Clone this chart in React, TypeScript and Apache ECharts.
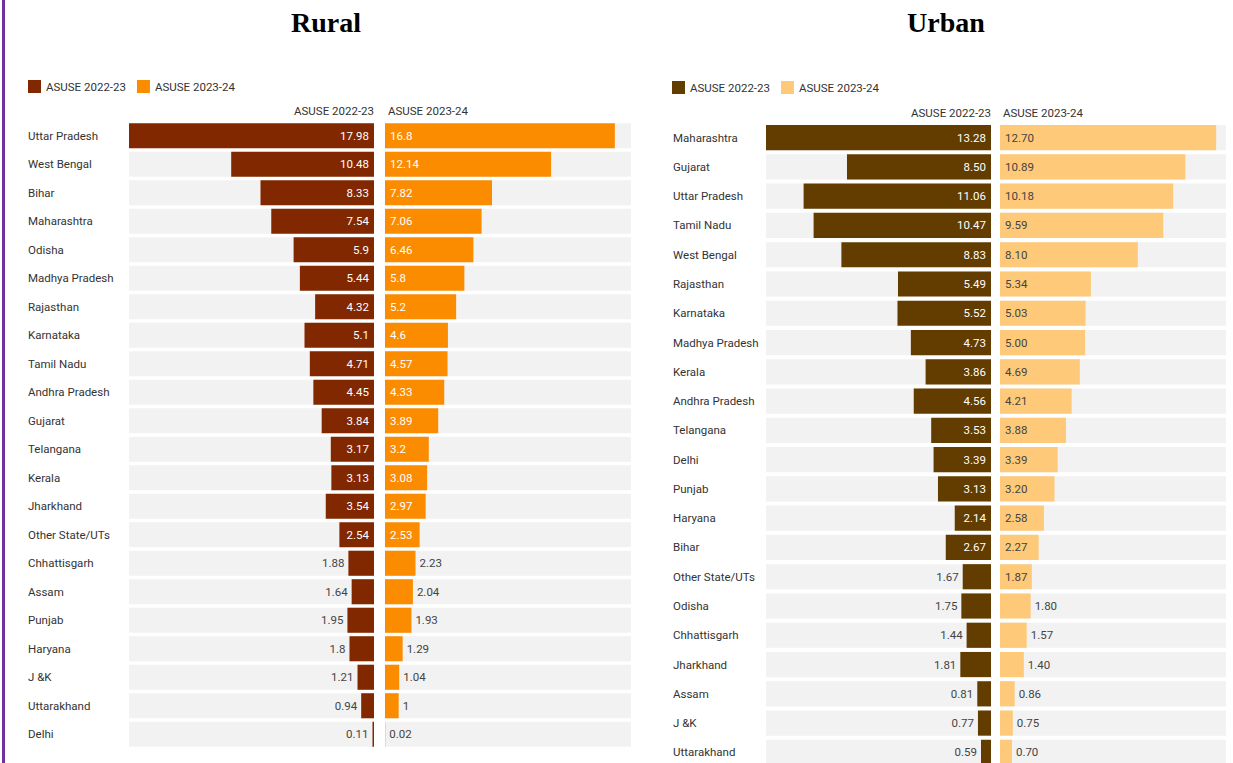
import React, { useEffect, useRef } from "react";
import * as echarts from "echarts";

const ruralStates = [
  "Uttar Pradesh", "West Bengal", "Bihar", "Maharashtra", "Odisha", "Madhya Pradesh",
  "Rajasthan", "Karnataka", "Tamil Nadu", "Andhra Pradesh", "Gujarat", "Telangana",
  "Kerala", "Jharkhand", "Other State/UTs", "Chhattisgarh", "Assam", "Punjab",
  "Haryana", "J &K", "Uttarakhand", "Delhi",
];
const rural2022 = [17.98, 10.48, 8.33, 7.54, 5.9, 5.44, 4.32, 5.1, 4.71, 4.45, 3.84, 3.17, 3.13, 3.54, 2.54, 1.88, 1.64, 1.95, 1.8, 1.21, 0.94, 0.11];
const rural2023 = [16.8, 12.14, 7.82, 7.06, 6.46, 5.8, 5.2, 4.6, 4.57, 4.33, 3.89, 3.2, 3.08, 2.97, 2.53, 2.23, 2.04, 1.93, 1.29, 1.04, 1, 0.02];

const urbanStates = [
  "Maharashtra", "Gujarat", "Uttar Pradesh", "Tamil Nadu", "West Bengal", "Rajasthan",
  "Karnataka", "Madhya Pradesh", "Kerala", "Andhra Pradesh", "Telangana", "Delhi",
  "Punjab", "Haryana", "Bihar", "Other State/UTs", "Odisha", "Chhattisgarh",
  "Jharkhand", "Assam", "J &K", "Uttarakhand",
];
const urban2022 = [13.28, 8.5, 11.06, 10.47, 8.83, 5.49, 5.52, 4.73, 3.86, 4.56, 3.53, 3.39, 3.13, 2.14, 2.67, 1.67, 1.75, 1.44, 1.81, 0.81, 0.77, 0.59];
const urban2023 = [12.7, 10.89, 10.18, 9.59, 8.1, 5.34, 5.03, 5.0, 4.69, 4.21, 3.88, 3.39, 3.2, 2.58, 2.27, 1.87, 1.8, 1.57, 1.4, 0.86, 0.75, 0.7];

const periodNames = ["ASUSE 2022-23", "ASUSE 2023-24"];
const panelTitles = ["Rural", "Urban"];

const FONT = "Roboto, 'Noto Sans', sans-serif";
const TEXT = "#333333";

const seriesLabel: Record<string, string> = {
  r22: periodNames[0],
  r23: periodNames[1],
  u22: periodNames[0],
  u23: periodNames[1],
};

function makeData(
  values: number[],
  side: "left" | "right",
  threshold: number,
  insideColor: string,
  fmt: (v: number) => string
) {
  return values.map((v) => {
    const inside = v >= threshold;
    return {
      value: v,
      label: {
        show: true,
        position: inside
          ? side === "left" ? "insideRight" : "insideLeft"
          : side === "left" ? "left" : "right",
        distance: inside ? 5 : 4,
        color: inside ? insideColor : "#444444",
        fontSize: 11.5,
        fontFamily: FONT,
        formatter: () => fmt(v),
      },
    };
  });
}

export default function App() {
  const ref = useRef<HTMLDivElement>(null);

  useEffect(() => {
    if (!ref.current) return;
    const chart = echarts.init(ref.current, undefined, { renderer: "svg" });

    const ruralMax = Math.max(...rural2022, ...rural2023);
    const urbanMax = Math.max(...urban2022, ...urban2023);
    const rFmt = (v: number) => String(v);
    const uFmt = (v: number) => v.toFixed(2);

    const grids = [
      { left: 129, width: 245, top: 121.5, height: 627 },
      { left: 385, width: 246, top: 121.5, height: 627 },
      { left: 766, width: 225, top: 123, height: 644 },
      { left: 1000, width: 226, top: 123, height: 644 },
    ];

    const xAxes = grids.map((_, i) => ({
      gridIndex: i,
      type: "value",
      min: 0,
      max: i < 2 ? ruralMax : urbanMax,
      inverse: i % 2 === 0,
      show: false,
    }));

    const yAxes = grids.map((_, i) => ({
      gridIndex: i,
      type: "category",
      inverse: true,
      data: i < 2 ? ruralStates : urbanStates,
      show: i % 2 === 0,
      axisLine: { show: false, onZero: false },
      axisTick: { show: false },
      splitLine: { show: false },
      axisLabel: {
        show: i % 2 === 0,
        align: "left",
        margin: i === 0 ? 101 : 93,
        color: TEXT,
        fontSize: 11.5,
        fontFamily: FONT,
      },
    }));

    const barBase = {
      type: "bar",
      showBackground: true,
      backgroundStyle: { color: "#f2f2f2" },
    };

    const series = [
      {
        ...barBase,
        name: "r22",
        xAxisIndex: 0,
        yAxisIndex: 0,
        barCategoryGap: "12%",
        itemStyle: { color: "#822800" },
        data: makeData(rural2022, "left", 2.28, "#ffffff", rFmt),
      },
      {
        ...barBase,
        name: "r23",
        xAxisIndex: 1,
        yAxisIndex: 1,
        barCategoryGap: "12%",
        itemStyle: { color: "#fb8c00" },
        data: makeData(rural2023, "right", 2.28, "#ffffff", rFmt),
      },
      {
        ...barBase,
        name: "u22",
        xAxisIndex: 2,
        yAxisIndex: 2,
        barCategoryGap: "14%",
        itemStyle: { color: "#633c00" },
        data: makeData(urban2022, "left", 1.84, "#ffffff", uFmt),
      },
      {
        ...barBase,
        name: "u23",
        xAxisIndex: 3,
        yAxisIndex: 3,
        barCategoryGap: "14%",
        itemStyle: { color: "#fec978" },
        data: makeData(urban2023, "right", 1.84, "#444444", uFmt),
      },
    ];

    const legendCommon = {
      orient: "horizontal",
      icon: "rect",
      itemWidth: 13,
      itemHeight: 13,
      itemGap: 11,
      padding: 0,
      selectedMode: false,
      textStyle: { color: TEXT, fontSize: 11.5, fontFamily: FONT },
      formatter: (n: string) => seriesLabel[n],
    };

    const headerStyle = (x: number, y: number, text: string, align: string) => ({
      type: "text",
      x,
      y,
      style: {
        text,
        align,
        verticalAlign: "middle",
        fill: TEXT,
        fontSize: 11.5,
        fontFamily: FONT,
      },
    });

    const titleStyle = (x: number, text: string) => ({
      type: "text",
      x,
      y: 22,
      style: {
        text,
        align: "center",
        verticalAlign: "middle",
        fill: "#000000",
        fontSize: 28,
        fontWeight: "bold",
        fontFamily: "'Liberation Serif', 'Times New Roman', serif",
      },
    });

    chart.setOption({
      animation: false,
      backgroundColor: "#ffffff",
      textStyle: { fontFamily: FONT },
      grid: grids.map((g) => ({ ...g, containLabel: false })),
      xAxis: xAxes,
      yAxis: yAxes,
      legend: [
        { ...legendCommon, left: 28, top: 80, data: ["r22", "r23"] },
        { ...legendCommon, left: 672, top: 81, data: ["u22", "u23"] },
      ],
      series,
      graphic: [
        {
          type: "rect",
          shape: { x: 2, y: 0, width: 3, height: 800 },
          style: { fill: "#7030a0" },
        },
        titleStyle(326, panelTitles[0]),
        titleStyle(946, panelTitles[1]),
        headerStyle(374, 111, periodNames[0], "right"),
        headerStyle(388, 111, periodNames[1], "left"),
        headerStyle(991, 113, periodNames[0], "right"),
        headerStyle(1003, 113, periodNames[1], "left"),
      ],
    });

    return () => chart.dispose();
  }, []);

  return (
    <div
      style={{
        position: "absolute",
        left: 0,
        top: 0,
        width: 1233,
        height: 763,
        overflow: "hidden",
      }}
    >
      <div ref={ref} style={{ width: 1233, height: 800 }} />
    </div>
  );
}
